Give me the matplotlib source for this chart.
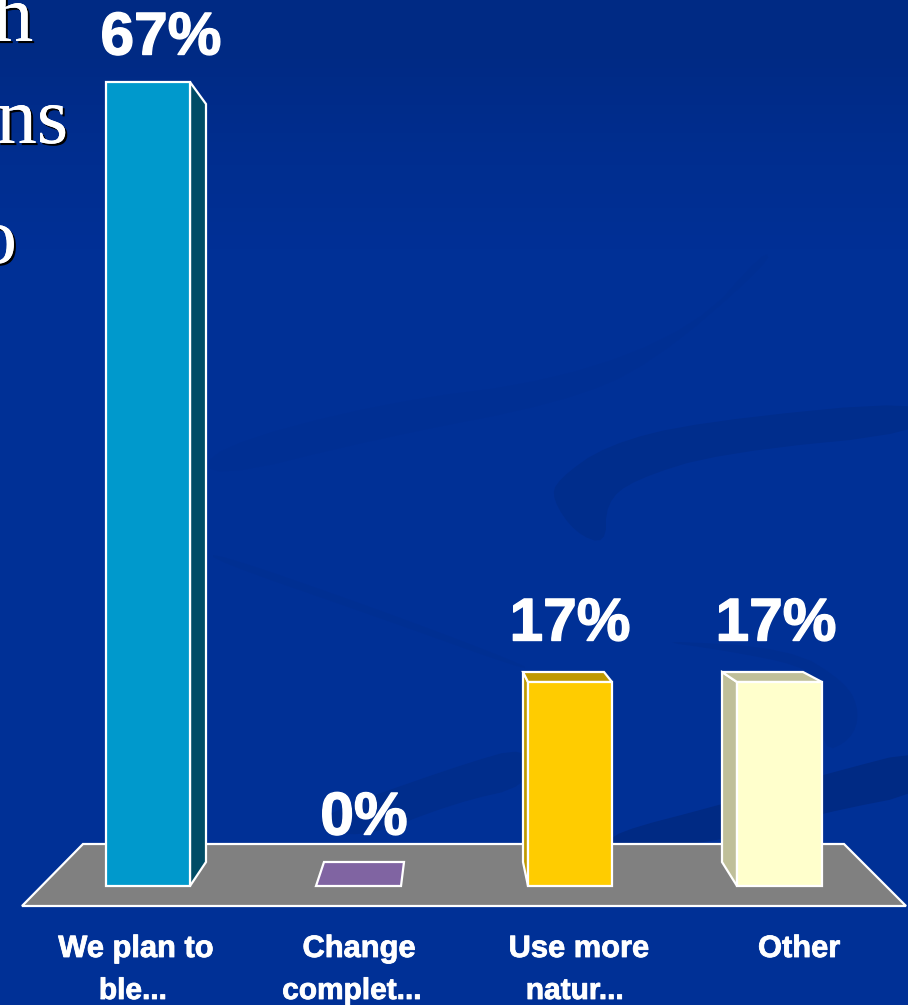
import numpy as np
import matplotlib
matplotlib.use("Agg")
import matplotlib.pyplot as plt
from matplotlib.patches import Polygon
import matplotlib.patheffects as pe

categories = ["We plan to\nble...", "Change\ncomplet...", "Use more\nnatur...", "Other"]
values = [67, 0, 17, 17]
value_labels = ["67%", "0%", "17%", "17%"]
front_colors = ["#0099CC", "#8064A2", "#FFCC00", "#FFFFCC"]
side_colors = ["#004C66", "#8064A2", "#BF9900", "#BFBF99"]
title_fragments = ["h", "ns", "o"]

W, H = 908, 1005
BASE = 886            # pixel row of value 0
PX_PER_PCT = 12.0     # pixels per percentage point

fig = plt.figure(figsize=(W / 100, H / 100), dpi=100)
ax = fig.add_axes([0, 0, 1, 1])
ax.set_xlim(0, W)
ax.set_ylim((BASE - H) / PX_PER_PCT, BASE / PX_PER_PCT)
ax.axis("off")


def py(p):
    return (BASE - p) / PX_PER_PCT


def smooth(points, n=3):
    pts = np.array(points, dtype=float)
    for _ in range(n):
        nxt = np.roll(pts, -1, axis=0)
        q = 0.75 * pts + 0.25 * nxt
        r = 0.25 * pts + 0.75 * nxt
        pts = np.empty((len(q) * 2, 2))
        pts[0::2] = q
        pts[1::2] = r
    return pts


# background gradient
grad = np.array([[0.0], [0.6], [1.0], [1.0], [1.0], [1.0], [1.0], [1.0], [1.0], [1.0]])
cmap = matplotlib.colors.LinearSegmentedColormap.from_list("bg", ["#002A84", "#003096"])
ax.imshow(grad, cmap=cmap, aspect="auto", extent=(0, W, py(H), py(0)), zorder=0,
          vmin=0, vmax=1, interpolation="bilinear")

# decorative swooshes: (outline, colour)
swoosh = [
    ([(209, 449), (380, 403), (561, 380), (697, 327), (765, 250), (770, 262), (651, 365),
      (561, 403), (380, 438), (209, 480)], "#002F93"),
    ([(930, 399), (697, 422), (606, 445), (557, 480), (552, 499), (575, 533), (606, 545),
      (606, 503), (633, 480), (719, 453), (930, 432)], "#002D8C"),
    ([(213, 552), (380, 610), (525, 665), (525, 670), (380, 618), (213, 560)], "#002F92"),
    ([(650, 640), (790, 648), (847, 683), (860, 713), (851, 740), (822, 753), (822, 684),
      (800, 665), (722, 650)], "#002E90"),
    ([(612, 833), (720, 805), (822, 775), (930, 747), (930, 792), (822, 813), (700, 846),
      (612, 846)], "#002A84"),
    ([(300, 822), (454, 767), (530, 745), (530, 786), (454, 803), (360, 840)], "#002D8C"),
]
for outline, colour in swoosh:
    pts = smooth(outline, 2)
    ax.add_patch(Polygon(np.column_stack([pts[:, 0], py(pts[:, 1])]), closed=True,
                         fc=colour, ec="none", zorder=1))

# floor
ax.add_patch(Polygon([(22, py(906)), (906, py(906)), (844, py(844)), (83, py(844))],
                     closed=True, fc="#808080", ec="white", lw=1.6, joinstyle="miter", zorder=2))

# bar geometry
front_l = [106, 316, 528, 737]
front_w = [84, 85, 84, 85]
label_x = [161, 364, 570, 776]
label_y = [39, 819, 625, 625]
cat_x = [136, 359, 579, 799]
cat2_x = [133, 352, 575]

edge = dict(ec="white", lw=1.6, joinstyle="miter")
v = values
DEPTH = 24 / PX_PER_PCT
RISE = 10 / PX_PER_PCT

# bar 0: depth to the right
l, r = front_l[0], front_l[0] + front_w[0]
ax.add_patch(Polygon([(r, v[0]), (r + 16, v[0] - 22 / PX_PER_PCT), (r + 16, DEPTH), (r, 0)],
                     closed=True, fc=side_colors[0], zorder=3, **edge))
ax.bar(l, v[0], width=front_w[0], align="edge", color=front_colors[0], edgecolor="white",
       linewidth=1.6, zorder=4)

# bar 1: flat
ax.add_patch(Polygon([(316, 0), (401, 0), (404, DEPTH), (324, DEPTH)],
                     closed=True, fc=front_colors[1], zorder=3, **edge))

# bar 2: depth to the left, small
l, r = front_l[2], front_l[2] + front_w[2]
ax.add_patch(Polygon([(l, v[2]), (l - 5, v[2] + RISE), (l - 5, DEPTH), (l, 0)],
                     closed=True, fc=side_colors[2], zorder=3, **edge))
ax.add_patch(Polygon([(l, v[2]), (l - 5, v[2] + RISE), (r - 8, v[2] + RISE), (r, v[2])],
                     closed=True, fc=side_colors[2], zorder=3, **edge))
ax.bar(l, v[2], width=front_w[2], align="edge", color=front_colors[2], edgecolor="white",
       linewidth=1.6, zorder=4)

# bar 3: depth to the left, larger
l, r = front_l[3], front_l[3] + front_w[3]
ax.add_patch(Polygon([(l, v[3]), (l - 15, v[3] + RISE), (l - 15, DEPTH), (l, 0)],
                     closed=True, fc=side_colors[3], zorder=3, **edge))
ax.add_patch(Polygon([(l, v[3]), (l - 15, v[3] + RISE), (r - 19, v[3] + RISE), (r, v[3])],
                     closed=True, fc=side_colors[3], zorder=3, **edge))
ax.bar(l, v[3], width=front_w[3], align="edge", color=front_colors[3], edgecolor="white",
       linewidth=1.6, zorder=4)

# value labels
for x, y, t in zip(label_x, label_y, value_labels):
    ax.text(x, py(y), t, ha="center", va="center", color="white", family="Liberation Sans",
            fontweight="bold", fontsize=43.5, zorder=6,
            path_effects=[pe.withStroke(linewidth=1.0, foreground="white")])

# category labels
for x, t in zip(cat_x, categories):
    ax.text(x, py(949), t.split("\n")[0], ha="center", va="center", color="white",
            family="Liberation Sans", fontweight="bold", fontsize=22.2, zorder=6,
            path_effects=[pe.withStroke(linewidth=0.6, foreground="white")])
for x, t in zip(cat2_x, categories[:3]):
    ax.text(x, py(991), t.split("\n")[1], ha="center", va="center", color="white",
            family="Liberation Sans", fontweight="bold", fontsize=21.5, zorder=6,
            path_effects=[pe.withStroke(linewidth=0.6, foreground="white")])

# heading fragments, cut by the left edge as in the reference
frag_right = [33, 68, 17]
frag_base = [41, 143, 263]
for x, y, t in zip(frag_right, frag_base, title_fragments):
    ax.text(x, py(y), t, ha="right", va="baseline", color="white", family="Liberation Serif",
            fontsize=58, zorder=6, clip_on=True,
            path_effects=[pe.withSimplePatchShadow(offset=(1.5, -1.5), shadow_rgbFace="black", alpha=1.0),
                          pe.Normal()])

fig.savefig("out.png", dpi=100)
